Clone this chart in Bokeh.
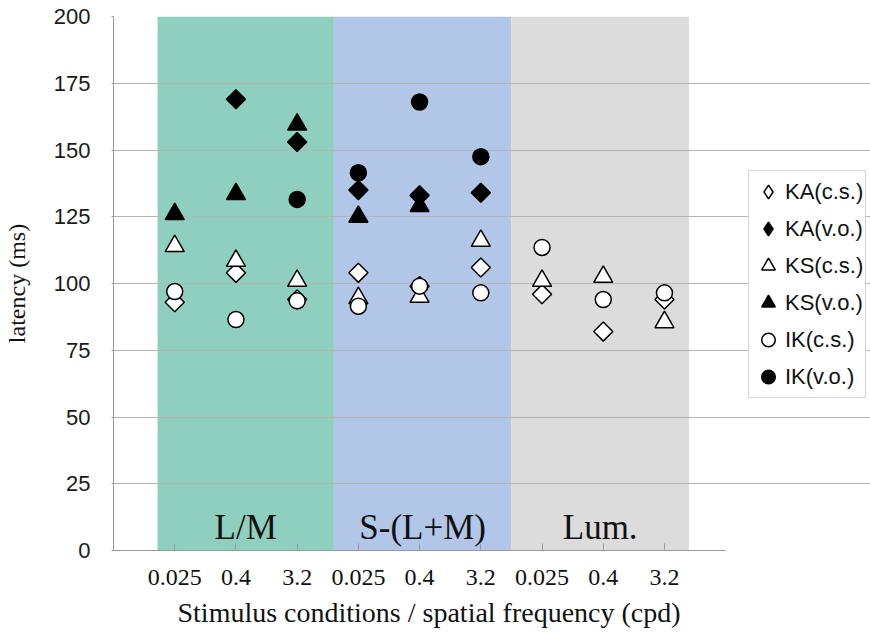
import math
from bokeh.plotting import figure
from bokeh.models import (ColumnDataSource, FixedTicker, Legend, LegendItem, Range1d, Title)
from bokeh.core.properties import value
from bokeh.embed import file_html
from bokeh.resources import INLINE

nan = float("nan")

# ---- data ----
positions = [0, 1, 2, 3, 4, 5, 6, 7, 8]
tick_labels = ["0.025", "0.4", "3.2", "0.025", "0.4", "3.2", "0.025", "0.4", "3.2"]
y_ticks = [0, 25, 50, 75, 100, 125, 150, 175, 200]
conditions = ["L/M", "S-(L+M)", "Lum."]
band_edges = [-0.28, 2.6, 5.5, 8.4]
band_colors = ["#8fcfbf", "#b2c6e7", "#dcdcdc"]

ka_cs = [93, 104, 94, 104, 99, 106, 96, 82, 94]
ka_vo = [nan, 169, 153, 135, 133, 134, nan, nan, nan]
ks_cs = [114, 108.5, 101, 94.5, 95, 116, 101, 102.5, 85.5]
ks_vo = [126, 133.5, 159.5, 125, 129, nan, nan, nan, nan]
ik_cs = [97, 86.5, 93.5, 91.5, 99, 96.5, 113.5, 94, 96.5]
ik_vo = [nan, nan, 131.5, 141.5, 168, 147.5, nan, nan, nan]

series = [
    ("KA(c.s.)", ka_cs, "square", "white"),
    ("KA(v.o.)", ka_vo, "square", "black"),
    ("KS(c.s.)", ks_cs, "triangle", "white"),
    ("KS(v.o.)", ks_vo, "triangle", "black"),
    ("IK(c.s.)", ik_cs, "circle", "white"),
    ("IK(v.o.)", ik_vo, "circle", "black"),
]
marker_size = {"square": 13.5, "triangle": 19, "circle": 16}
marker_angle = {"square": math.pi / 4, "triangle": 0, "circle": 0}
# legend shows markers without rotation, so the diamond series use a diamond proxy
legend_marker = {"square": "diamond", "triangle": "triangle", "circle": "circle"}

x_lo, x_hi = -1, 9          # extent of the chart axes / grid
px_per_unit = 61.3
frame_px = 870 - 112

p = figure(width=870, height=640,
           x_range=Range1d(x_lo, x_lo + frame_px / px_per_unit),
           y_range=Range1d(0, 200),
           output_backend="svg", toolbar_location=None,
           min_border_left=112, min_border_right=0, min_border_top=16,
           min_border_bottom=90)
p.outline_line_color = None
p.background_fill_color = "white"
p.border_fill_color = "white"

# bands
band_src = ColumnDataSource(dict(
    left=band_edges[:-1], right=band_edges[1:],
    bottom=[y_ticks[0]] * 3, top=[y_ticks[-1]] * 3, color=band_colors))
p.quad(left="left", right="right", bottom="bottom", top="top", color="color",
       line_color=None, source=band_src, level="image")

centers = [(a + b) / 2 for a, b in zip(band_edges[:-1], band_edges[1:])]
p.text(x=centers, y=[8.6] * 3, text=conditions, text_font=value("Liberation Serif"),
       text_font_size="35px", text_align="center", text_baseline="alphabetic",
       text_color="#111111")

items = []
for name, vals, marker, fill in series:
    src = ColumnDataSource(dict(x=positions, y=vals))
    r = p.scatter("x", "y", source=src, marker=marker, size=marker_size[marker],
                  angle=marker_angle[marker], fill_color=fill, line_color="black",
                  line_width=1.5)
    lm = legend_marker[marker]
    if lm != marker:
        proxy_src = ColumnDataSource(dict(x=[nan], y=[nan]))
        r = p.scatter("x", "y", source=proxy_src, marker=lm, fill_color=fill,
                      line_color="black", line_width=1.5)
    items.append(LegendItem(label=name, renderers=[r]))

legend = Legend(items=items, location=(635, 152), margin=0,
                glyph_width=34, glyph_height=37,
                spacing=0, padding=2, label_standoff=0, label_height=37,
                border_line_color="#aaaaaa", border_line_width=1,
                label_text_font="Liberation Sans", label_text_font_size="22px",
                label_text_color="#111111", background_fill_alpha=1.0)
p.add_layout(legend)

# grid
p.xgrid.grid_line_color = None
p.ygrid.grid_line_color = "#b5b5b5"
p.ygrid.grid_line_width = 1
p.ygrid.ticker = FixedTicker(ticks=y_ticks)
p.ygrid.bounds = (x_lo, x_hi)

# y axis
p.yaxis.ticker = FixedTicker(ticks=y_ticks)
p.yaxis.axis_label = "latency (ms)"
p.yaxis.axis_label_text_font = "Liberation Serif"
p.yaxis.axis_label_text_font_size = "24px"
p.yaxis.axis_label_text_font_style = "normal"
p.yaxis.axis_label_text_color = "#111111"
p.yaxis.axis_label_standoff = 21
p.yaxis.major_label_text_font = "Liberation Sans"
p.yaxis.major_label_text_font_size = "22px"
p.yaxis.major_label_text_color = "#1a1a1a"
p.yaxis.major_label_standoff = 21
p.yaxis.major_tick_out = 2
p.yaxis.major_tick_in = 0
p.yaxis.minor_tick_line_color = None
p.yaxis.axis_line_color = "#999999"
p.yaxis.major_tick_line_color = "#999999"

# x axis
p.xaxis.ticker = FixedTicker(ticks=positions)
p.xaxis.bounds = (x_lo, x_hi)
p.xaxis.major_label_overrides = {i: lab for i, lab in zip(positions, tick_labels)}
p.xaxis.major_label_text_font = "Liberation Serif"
p.xaxis.major_label_text_font_size = "24px"
p.xaxis.major_label_text_color = "#111111"
p.xaxis.major_label_standoff = 19
p.xaxis.major_tick_in = 7
p.xaxis.major_tick_out = 0
p.xaxis.minor_tick_line_color = None
p.xaxis.axis_line_color = "#999999"
p.xaxis.major_tick_line_color = "#999999"

# x-axis title, aligned to the chart area (not the legend area)
xtitle = Title(text="Stimulus conditions / spatial frequency (cpd)", align="left",
               offset=64, standoff=14, text_font="Liberation Serif",
               text_font_size="28px", text_font_style="normal",
               text_color="#111111")
p.add_layout(xtitle, "below")

open("out.html", "w").write(file_html(p, INLINE))
